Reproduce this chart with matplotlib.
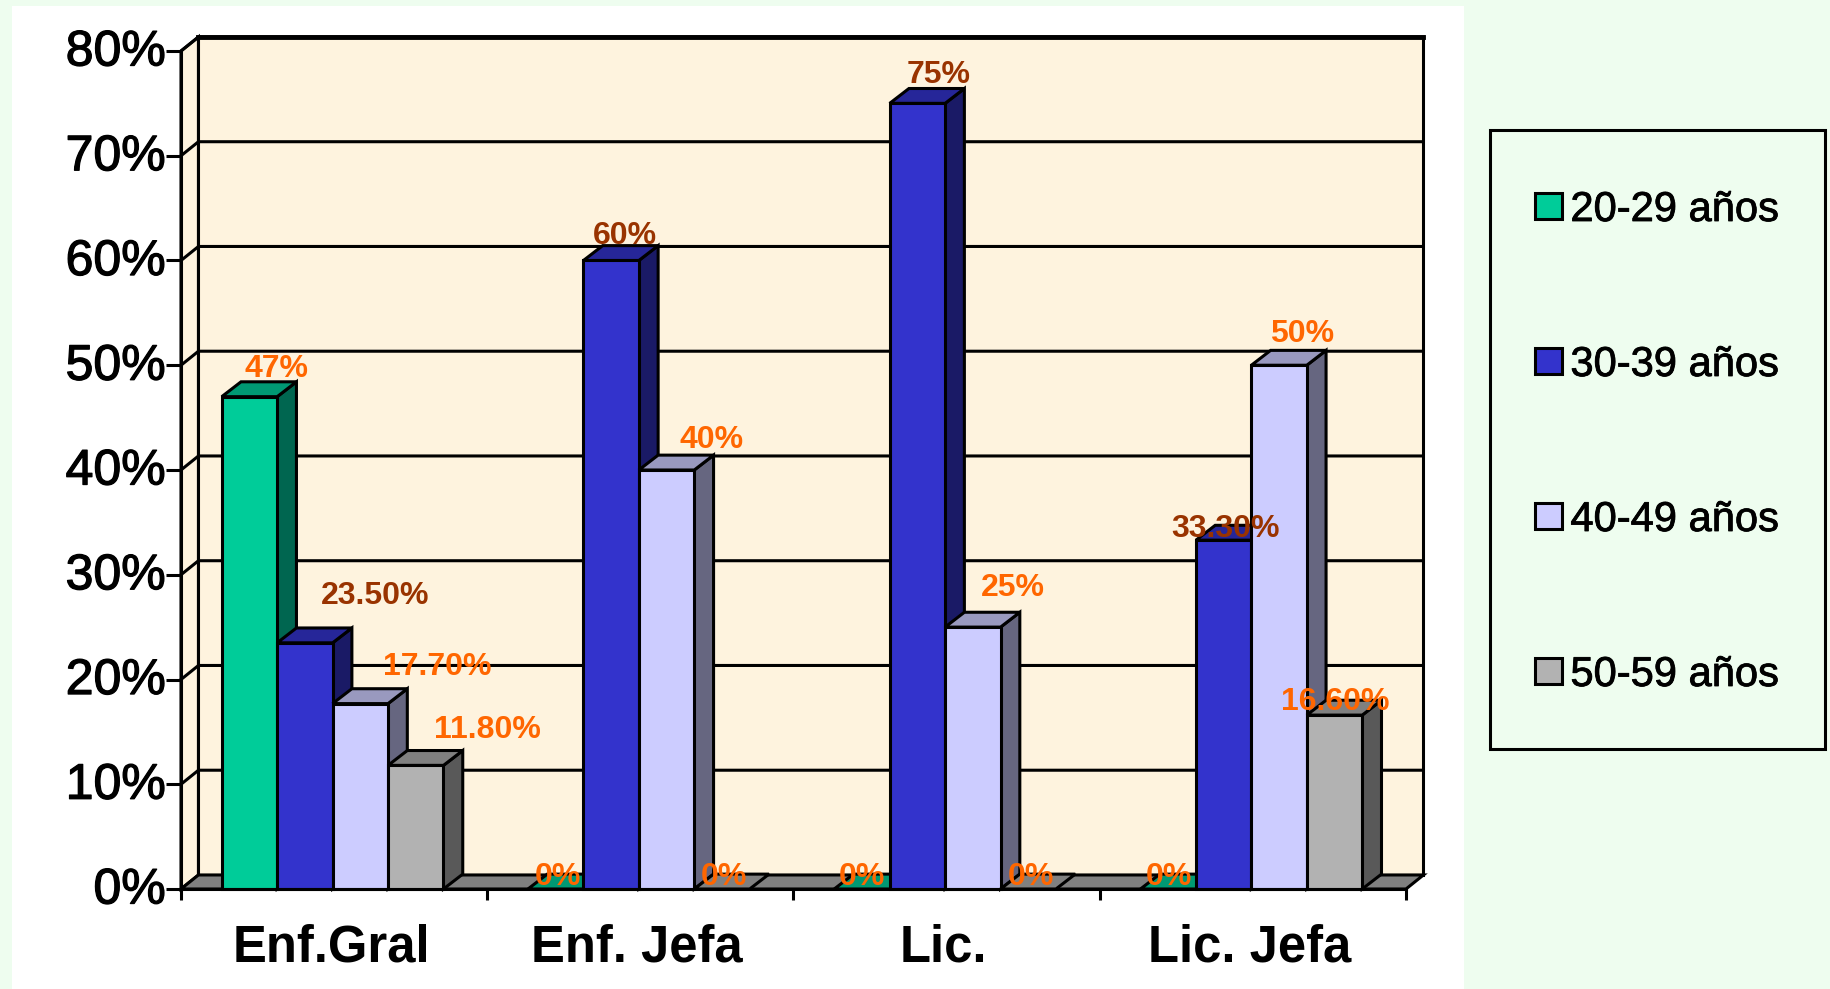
import matplotlib
matplotlib.use('Agg')
import matplotlib.pyplot as plt
import matplotlib.patheffects as pe
from matplotlib.patches import Polygon, Rectangle, Patch
from matplotlib.transforms import ScaledTranslation

plt.rcParams['font.family'] = ['Liberation Sans', 'DejaVu Sans']

categories = ['Enf.Gral', 'Enf. Jefa', 'Lic.', 'Lic. Jefa']
series_names = ['20-29 años', '30-39 años', '40-49 años', '50-59 años']
age_20_29 = [47, 0, 0, 0]
age_30_39 = [23.5, 60, 75, 33.3]
age_40_49 = [17.7, 40, 25, 50]
age_50_59 = [11.8, 0, 0, 16.6]
labels_20_29 = ['47%', '0%', '0%', '0%']
labels_30_39 = ['23.50%', '60%', '75%', '33.30%']
labels_40_49 = ['17.70%', '40%', '25%', '50%']
labels_50_59 = ['11.80%', '0%', '0%', '16.60%']
y_ticks = [0, 10, 20, 30, 40, 50, 60, 70, 80]

# front, side, top face colours per series
FACES = [('#00CC99', '#006650', '#009973'),
         ('#3333CC', '#1A1A66', '#262699'),
         ('#CCCCFF', '#666680', '#9999BF'),
         ('#B2B2B2', '#595959', '#808080')]
LABEL_COLORS = ['#FF6600', '#993300', '#FF6600', '#FF6600']
# label shift from bar top centre, pixels (right, up)
LABEL_SHIFT = [[(27, 28), (2, 12), (0, 12), (1, 12)],
               [(70, 47), (14, 24), (21, 28), (2, 11)],
               [(77, 37), (45, 30), (40, 39), (23, 31)],
               [(72, 35), (2, 12), (3, 12), (1, 13)]]

W, H = 1830, 989
BG = '#EEFDEF'
WALL = '#FEF3DE'
LW = 2.2

fig = plt.figure(figsize=(W / 100, H / 100), dpi=100, facecolor=BG)
fig.add_artist(Rectangle((12 / W, 0), 1452 / W, 983 / H, transform=fig.transFigure,
                         facecolor='white', edgecolor='none', zorder=-5))
ax = fig.add_axes([181 / W, 1 - 889 / H, 1225 / W, 838 / H])
ax.patch.set_visible(False)
ax.set_xlim(0, 4)
ax.set_ylim(0, 80)

# depth of the fake 3D box and bars, in data units
dx, dy = 0.057, 1.34
bar_dx, bar_dy = 0.063, 1.42
bar_w, margin = 0.181, 0.133


def face(pts, color, z):
    ax.add_patch(Polygon(pts, closed=True, facecolor=color, edgecolor='black',
                         linewidth=LW, joinstyle='miter', clip_on=False, zorder=z))


# walls and floor
face([(0, 0), (dx, dy), (dx, 80 + dy), (0, 80)], WALL, 1)
face([(dx, dy), (4 + dx, dy), (4 + dx, 80 + dy), (dx, 80 + dy)], WALL, 1)
face([(0, 0), (dx, dy), (4 + dx, dy), (4, 0)], '#808080', 2)
for t in y_ticks[1:]:
    ax.plot([0, dx, 4 + dx], [t, t + dy, t + dy], color='black', lw=LW, clip_on=False, zorder=2)
ax.plot([dx, 4 + dx], [80 + dy, 80 + dy], color='black', lw=3.5, clip_on=False, zorder=2)

# bars, left to right so each one covers the side of the previous
series = [age_20_29, age_30_39, age_40_49, age_50_59]
z = 3
for g in range(len(categories)):
    for s, vals in enumerate(series):
        v = vals[g]
        x0 = g + margin + s * bar_w
        x1 = x0 + bar_w
        front, side, top = FACES[s]
        if v > 0:
            face([(x1, 0), (x1 + bar_dx, bar_dy), (x1 + bar_dx, v + bar_dy), (x1, v)], side, z)
        face([(x0, v), (x0 + bar_dx, v + bar_dy), (x1 + bar_dx, v + bar_dy), (x1, v)], top, z)
        if v > 0:
            ax.bar(x0, v, width=bar_w, align='edge', color=front, edgecolor='black',
                   linewidth=LW, clip_on=False, zorder=z)
        z += 1

all_labels = [labels_20_29, labels_30_39, labels_40_49, labels_50_59]
for s, vals in enumerate(series):
    for g, v in enumerate(vals):
        xc = g + margin + (s + 0.5) * bar_w
        sx, sy = LABEL_SHIFT[s][g]
        ax.annotate(all_labels[s][g], (xc, v), xytext=(sx * 0.72, sy * 0.72),
                    textcoords='offset points', ha='center', va='center',
                    fontsize=23, fontweight='bold', color=LABEL_COLORS[s],
                    annotation_clip=False, zorder=60)

# axes
for name in ['top', 'right']:
    ax.spines[name].set_visible(False)
for name in ['left', 'bottom']:
    ax.spines[name].set_linewidth(LW)
    ax.spines[name].set_zorder(50)
ax.set_yticks(y_ticks)
ax.set_yticklabels([f'{t}%' for t in y_ticks], fontsize=36)
ax.tick_params(axis='y', length=11, width=LW, pad=0)
thicken = [pe.withStroke(linewidth=0.9, foreground='black')]
up = ScaledTranslation(0, 2.5 / 72, fig.dpi_scale_trans)
for lab in ax.get_yticklabels():
    lab.set_path_effects(thicken)
    lab.set_transform(lab.get_transform() + up)
ax.set_xticks(range(len(categories) + 1))
ax.set_xticklabels([])
ax.tick_params(axis='x', length=8, width=LW)
ax.set_xticks([i + 0.49 for i in range(len(categories))], minor=True)
ax.set_xticklabels(categories, minor=True, fontsize=36.5, fontweight='bold')
ax.tick_params(axis='x', which='minor', length=0, pad=25)

# legend frame drawn apart so its padding can differ from the entries
fig.add_artist(Rectangle((1490 / W, 1 - 749 / H), 335 / W, 619 / H, transform=fig.transFigure,
                         facecolor=BG, edgecolor='black', linewidth=LW, zorder=4))
handles = [Patch(facecolor=f[0], edgecolor='black', linewidth=LW) for f in FACES]
leg = fig.legend(handles, series_names, loc='upper left',
                 bbox_to_anchor=(1535 / W, 1 - 190 / H), bbox_transform=fig.transFigure,
                 fontsize=30, frameon=False, labelspacing=2.76,
                 handlelength=0.65, handleheight=0.59, handletextpad=0.2,
                 borderpad=0, borderaxespad=0)
leg.set_zorder(5)
for t in leg.get_texts():
    t.set_path_effects([pe.withStroke(linewidth=0.6, foreground='black')])

fig.savefig('out.png', dpi=100, facecolor=BG)
